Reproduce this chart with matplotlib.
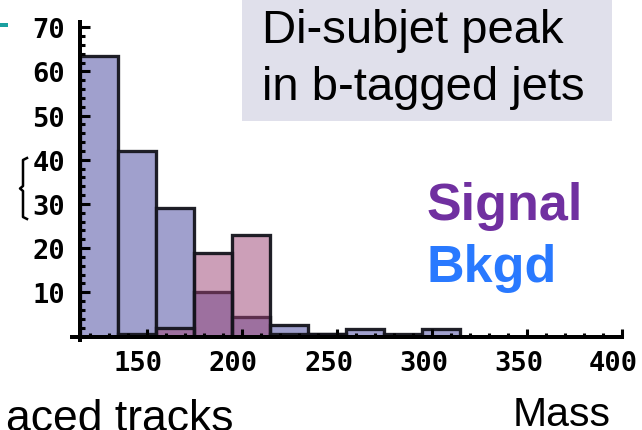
import matplotlib
matplotlib.use("Agg")
import matplotlib.pyplot as plt
from matplotlib.patches import Rectangle
from matplotlib.lines import Line2D
from matplotlib.ticker import MultipleLocator
from matplotlib.transforms import ScaledTranslation

# ---------------- data ----------------
bkgd_mass = [125, 145, 165, 185, 205, 225, 245, 265, 285, 305]
bkgd_counts = [63.5, 42, 29, 10, 4.5, 2.7, 0.6, 1.8, 0.6, 1.8]
signal_mass = [145, 165, 185, 205, 225, 245]
signal_counts = [0.6, 2, 19, 23, 0.6, 0.6]
bin_width = 20
x_ticks = [150, 200, 250, 300, 350, 400]
y_ticks = [10, 20, 30, 40, 50, 60, 70]
title_lines = ["Di-subjet peak", "in b-tagged jets"]
legend_signal = "Signal"
legend_bkgd = "Bkgd"
x_label = "Mass"
left_label = "aced tracks"

# ---------------- figure ----------------
W, H = 642, 431
fig = plt.figure(figsize=(W / 100, H / 100), dpi=100)


def fx(px):
    return px / W


def fy(py):
    return 1 - py / H


x0, x1 = 80, 621.7
y0, y1 = 337.5, 23.3
ax = fig.add_axes([fx(x0), fy(y0), (x1 - x0) / W, (y0 - y1) / H])
ax.set_facecolor("none")
ax.set_xlim(115, 400)
ax.set_ylim(0, 71.1)

edge = (0.08, 0.08, 0.11, 0.95)
lw_px = 3.3 * 72 / 100
ax.bar(bkgd_mass, bkgd_counts, width=bin_width, align="center",
       facecolor="#A0A0CD", edgecolor=edge, linewidth=lw_px, zorder=1)
ax.bar(signal_mass, signal_counts, width=bin_width, align="center",
       facecolor=(155 / 255, 65 / 255, 115 / 255, 0.5), edgecolor=edge,
       linewidth=lw_px, zorder=1.1)

for s in ["top", "right"]:
    ax.spines[s].set_visible(False)
for s in ["left", "bottom"]:
    ax.spines[s].set_linewidth(4 * 0.72)
    ax.spines[s].set_color("black")
    ax.spines[s].set_zorder(3)

# small axis extensions past the origin
ax.plot([109.7, 115], [0, 0], color="black", lw=4 * 0.72, clip_on=False,
        solid_capstyle="butt", zorder=3)
ax.plot([115, 115], [0, -1.3], color="black", lw=4 * 0.72, clip_on=False,
        solid_capstyle="butt", zorder=3)

ax.set_xticks(x_ticks)
ax.set_yticks(y_ticks)
ax.xaxis.set_minor_locator(MultipleLocator(10))
ax.yaxis.set_minor_locator(MultipleLocator(2))
ax.tick_params(axis="y", which="major", direction="in", length=7.2, width=2.2,
               pad=10.8)
ax.tick_params(axis="y", which="minor", direction="in", length=3.6, width=2.2)
ax.tick_params(axis="x", which="major", direction="in", length=5.8, width=2.2,
               pad=10.0)
ax.tick_params(axis="x", which="minor", direction="in", length=3.2, width=2.2)
shift = ScaledTranslation(-0.08, 0, fig.dpi_scale_trans)
for lab in ax.get_xticklabels():
    lab.set_transform(lab.get_transform() + shift)
for lab in ax.get_xticklabels() + ax.get_yticklabels():
    lab.set_fontfamily("DejaVu Sans Mono")
    lab.set_fontweight("bold")
    lab.set_fontsize(19.5)

# ---------------- annotation box ----------------
fig.patches.append(Rectangle((fx(242), fy(122)), (612 - 242) / W, 122 / H,
                             transform=fig.transFigure, facecolor="#E0E0EB",
                             edgecolor="none", zorder=0))
fig.text(fx(262), fy(43), title_lines[0], family="Liberation Sans",
         fontsize=34, va="baseline", ha="left", color="black")
fig.text(fx(262), fy(100), title_lines[1], family="Liberation Sans",
         fontsize=34, va="baseline", ha="left", color="black")

fig.text(fx(427), fy(220), legend_signal, family="Liberation Sans",
         fontweight="bold", fontsize=37.5, color="#7030A0", va="baseline")
fig.text(fx(427), fy(282), legend_bkgd, family="Liberation Sans",
         fontweight="bold", fontsize=37.5, color="#2979FF", va="baseline")

fig.text(fx(513), fy(426), x_label, family="Liberation Sans", fontsize=29.5,
         va="baseline", ha="left", color="black")
fig.text(fx(233), fy(431), left_label, family="Liberation Sans", fontsize=32,
         va="baseline", ha="right", color="black")

# teal dash top-left
fig.patches.append(Rectangle((fx(0), fy(28)), 8 / W, 4 / H,
                             transform=fig.transFigure, facecolor="#1AA0A0",
                             edgecolor="none"))

# partial brace at left
bx = [27, 23, 23, 20, 23, 23, 27]
by = [159, 161, 187, 189.5, 192, 218, 220]
fig.add_artist(Line2D([fx(v) for v in bx], [fy(v) for v in by],
                      transform=fig.transFigure, color="black", lw=1.8))

fig.savefig("out.png", dpi=100)
